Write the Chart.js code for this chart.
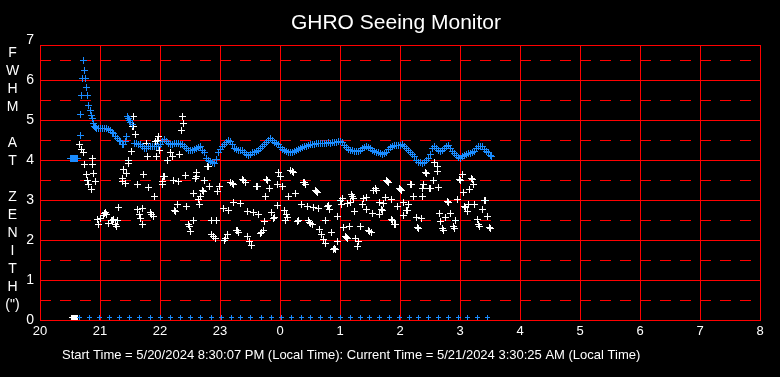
<!DOCTYPE html>
<html>
<head>
<meta charset="utf-8">
<title>GHRO Seeing Monitor</title>
<script src="https://cdn.jsdelivr.net/npm/chart.js@4.4.1/dist/chart.umd.min.js"></script>
<style>
    html, body { margin: 0; padding: 0; background: #000; }
    canvas { display: block; background: #000; }
</style>
</head>
<body>
<canvas id="myChart" width="780" height="377"></canvas>
<script>
// x values are minutes after 20:00 local time, y is FWHM in arcsec
const xTickLabels = ['20', '21', '22', '23', '0', '1', '2', '3', '4', '5', '6', '7', '8'];
const yTickValues = [0, 1, 2, 3, 4, 5, 6];
const halfLines = [0.5, 1.5, 2.5, 3.5, 4.5, 5.5, 6.5];
const yTopLabel = '7';
const yAxisLetters = ['F', 'W', 'H', 'M', '', 'A', 'T', '', 'Z', 'E', 'N', 'I', 'T', 'H', '(")'];
const titleText = 'GHRO Seeing Monitor';
const footerText = 'Start Time = 5/20/2024 8:30:07 PM (Local Time): Current Time = 5/21/2024 3:30:25 AM (Local Time)';

const seeingBlue = [
    [30,4.05],[31,4.05],[32,4.05],[33,4.05],[34,4.05],[35,4.05],[36,4.05],[37,4.05],
    [40,4.62],[40,5.15],[41,5.62],[42,6.05],[43,6.48],[44,6.24],[45,6.03],[46,5.82],[47,5.62],[48,5.37],
    [50,5.25],[51,5.11],[52,5.04],[53,4.92],[54,4.85],[55,4.82],[56,4.8],[58,4.78],[60,4.8],[62,4.79],
    [64,4.8],[66,4.78],[68,4.77],[70,4.75],[72,4.7],[73,4.67],[75,4.6],[77,4.54],[79,4.5],[80,4.46],
    [82,4.4],[83,4.38],[85,4.46],[86,4.58],
    [87,5.08],[88,5.04],[89,5.0],[90,4.95],[92,4.88],
    [94,4.42],[96,4.41],[98,4.4],[100,4.38],[102,4.34],[104,4.3],[106,4.28],[108,4.33],[110,4.34],
    [112,4.35],[114,4.34],[116,4.33],[118,4.33],[120,4.4],[122,4.46],[124,4.52],[126,4.47],[128,4.42],
    [130,4.4],[132,4.4],[134,4.41],[136,4.42],[138,4.41],[140,4.39],[142,4.38],[144,4.33],[146,4.28],
    [148,4.25],[150,4.23],[152,4.23],[154,4.27],[156,4.3],[158,4.32],[160,4.33],[162,4.25],[164,4.18],
    [166,4.05],[168,4.0],[170,3.97],[172,3.95],[174,3.92],[176,4.02],[178,4.18],[180,4.27],[182,4.33],
    [184,4.38],[186,4.44],[188,4.48],[190,4.46],[192,4.38],[194,4.3],[196,4.26],[198,4.25],[200,4.25],
    [202,4.24],[204,4.2],[206,4.15],[208,4.12],[210,4.15],[212,4.18],[214,4.2],[216,4.21],[218,4.25],
    [220,4.3],[222,4.35],[224,4.38],[226,4.45],[228,4.5],[230,4.54],[232,4.5],[234,4.45],[236,4.42],
    [238,4.38],[240,4.32],[242,4.27],[244,4.24],[246,4.21],[248,4.19],[250,4.18],[252,4.2],[254,4.22],
    [256,4.25],[258,4.27],[260,4.29],[262,4.31],[264,4.33],[266,4.35],[268,4.37],[270,4.38],[272,4.39],
    [274,4.4],[276,4.41],[278,4.42],[280,4.42],[282,4.41],[284,4.42],[286,4.42],[288,4.43],[290,4.42],
    [292,4.43],[294,4.44],[296,4.45],[298,4.46],[300,4.46],[302,4.43],[304,4.37],[306,4.31],[308,4.27],
    [310,4.25],[312,4.23],[314,4.21],[316,4.21],[318,4.22],[320,4.25],[322,4.28],[324,4.31],[326,4.33],
    [328,4.32],[330,4.28],[332,4.25],[334,4.22],[336,4.2],[338,4.18],[340,4.17],[342,4.15],[344,4.16],
    [346,4.2],[348,4.26],[350,4.31],[352,4.35],[354,4.37],[356,4.37],[358,4.36],[360,4.37],[362,4.38],
    [364,4.35],[366,4.3],[368,4.25],[370,4.2],[372,4.15],[374,4.08],[376,4.0],[378,3.95],[380,3.93],
    [382,3.92],[384,3.95],[386,4.0],[388,4.05],[390,4.15],[392,4.28],[394,4.33],[396,4.3],[398,4.25],
    [400,4.22],[402,4.25],[404,4.3],[406,4.35],[408,4.37],[410,4.3],[412,4.22],[414,4.17],[416,4.12],
    [418,4.07],[420,4.05],[422,4.08],[424,4.12],[426,4.15],[428,4.17],[430,4.17],[432,4.18],[434,4.22],
    [436,4.28],[438,4.33],[440,4.35],[442,4.33],[444,4.27],[446,4.22],[448,4.18],[450,4.12],[451,4.1]
];

const seeingWhite = [
    [39,4.39],[41,4.27],[43,4.18],[44,3.88],[46,3.65],[47,3.48],[48,3.38],[51,3.27],[52,4.04],[52,3.88],
    [53,3.67],[55,3.46],[57,2.52],[58,2.39],[60,2.55],[63,2.62],[64,2.67],[65,2.7],[66,2.65],[68,2.42],
    [71,2.5],[72,2.5],[73,2.52],[75,2.38],[76,2.35],[77,2.48],[78,2.81],[82,3.54],[82,3.46],[83,3.77],
    [85,3.42],[86,3.67],[88,3.92],[88,4.0],[91,4.21],[93,5.08],[92,4.85],[93,4.83],[95,4.63],[97,3.4],
    [97,2.77],[99,2.64],[100,2.54],[102,2.39],[102,2.79],[103,3.64],[106,4.42],[107,4.08],[108,3.32],
    [110,2.68],[111,2.65],[113,2.6],[114,3.08],[115,4.46],[116,4.08],[117,4.5],[118,4.6],[119,4.23],
    [122,3.46],[122,3.38],[123,3.6],[124,3.58],[126,4.46],[127,3.98],[130,4.18],[132,4.08],[133,3.5],
    [134,2.75],[135,2.72],[137,2.88],[138,3.46],[139,4.14],[141,4.75],[142,5.08],[143,4.92],[145,3.61],
    [146,2.83],[148,2.38],[149,2.33],[150,2.21],[153,2.5],[153,3.17],[155,3.54],[156,3.6],[156,3.68],
    [158,3.02],[159,2.88],[160,3.1],[162,3.25],[163,3.22],[164,3.5],[167,3.83],[168,3.85],[169,3.35],
    [171,2.5],[171,2.13],[173,2.08],[175,2.03],[176,2.5],[177,3.21],[179,3.33],[183,2.79],[184,2.0],
    [185,2.03],[187,2.15],[188,2.75],[190,3.45],[192,3.42],[193,3.4],[193,2.93],[196,2.25],[197,2.23],
    [198,2.2],[200,2.92],[202,3.52],[203,3.5],[205,3.45],[207,2.71],[207,2.08],[209,1.96],[211,1.87],
    [213,2.69],[216,3.33],[217,3.35],[218,2.64],[220,2.17],[221,2.2],[223,2.25],[224,2.46],[225,3.1],
    [226,3.52],[227,3.5],[229,3.29],[231,2.69],[233,2.54],[234,2.57],[237,2.86],[237,3.4],[238,3.69],
    [240,3.58],[242,3.35],[244,2.73],[245,2.48],[246,2.65],[247,2.57],[248,3.08],[250,3.73],[252,3.71],
    [253,3.68],[255,3.17],[257,2.46],[258,2.5],[261,2.9],[263,3.45],[264,3.43],[265,3.4],[267,2.83],
    [268,2.48],[269,2.45],[270,2.42],[272,2.38],[273,2.82],[275,3.23],[276,3.21],[277,3.2],[278,2.79],
    [279,2.27],[281,2.15],[283,2.02],[285,2.48],[285,1.92],[287,2.85],[288,2.87],[289,2.77],[291,2.18],
    [293,1.77],[294,1.8],[295,1.77],[297,1.96],[297,2.6],[300,3.0],[301,2.89],[302,3.04],[303,2.32],
    [305,2.1],[306,2.07],[307,2.05],[307,2.92],[309,2.35],[310,2.93],[311,3.13],[312,3.1],[313,3.04],
    [314,2.71],[315,2.04],[317,1.83],[318,1.96],[320,2.35],[322,2.9],[323,3.04],[326,3.07],[326,2.77],
    [328,2.23],[329,2.21],[331,2.2],[332,2.67],[333,3.25],[335,3.28],[336,3.25],[339,2.93],[339,2.63],
    [341,2.77],[342,2.75],[343,2.92],[345,3.06],[346,3.5],[347,3.46],[348,3.44],[351,3.02],[351,2.52],
    [352,2.5],[354,2.4],[355,2.38],[357,2.85],[359,3.3],[360,3.27],[361,3.25],[363,2.93],[363,2.61],
    [366,2.75],[367,2.73],[368,2.88],[370,3.4],[371,3.38],[373,3.08],[376,2.56],[377,2.32],[378,2.3],
    [381,2.54],[382,3.29],[382,3.08],[383,3.38],[385,3.7],[386,3.67],[389,3.3],[390,3.29],[393,3.5],
    [394,3.94],[397,3.83],[397,3.71],[398,3.32],[399,2.67],[400,2.46],[402,2.28],[403,2.25],[405,2.57],
    [407,2.96],[408,2.94],[410,2.67],[413,2.33],[414,2.3],[415,2.48],[417,3.02],[419,3.52],[420,3.5],
    [422,3.65],[423,3.18],[424,2.84],[425,2.82],[427,2.71],[428,2.88],[429,3.27],[431,3.54],[432,3.52],
    [433,3.38],[434,2.88],[437,2.52],[438,2.38],[439,2.35],[442,2.77],[444,3.0],[445,2.98],[447,2.58],
    [449,2.32],[450,2.3]
];

// readings drawn along the bottom edge
const zeroBlueTimes = [39,49,59,69,79,89,99,110,120,130,140,150,160,171,181,191,200,210,221,231,241,
    251,261,270,280,290,300,310,320,329,339,349,359,369,378,388,398,408,418,427,437,447];
const zeroWhiteTimes = [31,32,33,34,35,36,37];
const zeroLevel = 0.07;

const blue = '#1a8cff';
const red = '#ff0000';
const font = "'Liberation Sans', Arial, sans-serif";

// small pixel crosses so the markers stay sharp
function plusMark(size, color) {
    const c = document.createElement('canvas');
    c.width = size;
    c.height = size;
    const g = c.getContext('2d');
    const mid = Math.floor(size / 2);
    g.fillStyle = color;
    g.fillRect(0, mid, size, 1);
    g.fillRect(mid, 0, 1, size);
    return c;
}

const extras = {
    id: 'extras',
    beforeDatasetsDraw(chart) {
        const {ctx, chartArea: a, scales: {y}} = chart;
        ctx.save();
        ctx.strokeStyle = red;
        ctx.lineWidth = 1;
        ctx.setLineDash([11, 9]);
        halfLines.forEach(v => {
            const py = Math.round(y.getPixelForValue(v)) + 0.5;
            ctx.beginPath();
            ctx.moveTo(a.left, py);
            ctx.lineTo(a.right, py);
            ctx.stroke();
        });
        ctx.setLineDash([]);
        ctx.strokeRect(a.left + 0.5, a.top + 0.5, a.right - a.left, a.bottom - a.top);
        ctx.restore();
        ctx.imageSmoothingEnabled = false;
    },
    afterDatasetsDraw(chart) {
        chart.ctx.imageSmoothingEnabled = true;
    },
    afterDraw(chart) {
        const {ctx, chartArea: a, scales: {y}} = chart;
        ctx.save();
        ctx.fillStyle = '#fff';
        ctx.font = '21px ' + font;
        ctx.textAlign = 'center';
        ctx.textBaseline = 'alphabetic';
        ctx.fillText(titleText, 396, 28.5);

        ctx.font = '14px ' + font;
        ctx.textBaseline = 'middle';
        yAxisLetters.forEach((ch, i) => {
            ctx.fillText(ch, 12.5, 53 + i * 18);
        });

        ctx.textAlign = 'right';
        ctx.fillText(yTopLabel, a.left - 6, y.getPixelForValue(7));

        ctx.font = '13px ' + font;
        ctx.textAlign = 'left';
        ctx.textBaseline = 'alphabetic';
        ctx.fillText(footerText, 62, 359);
        ctx.restore();
    }
};

const toPoints = list => list.map(p => ({x: p[0], y: p[1]}));

new Chart(document.getElementById('myChart'), {
    type: 'scatter',
    data: {
        datasets: [{
            label: 'FWHM',
            data: toPoints(seeingBlue),
            pointStyle: plusMark(7, blue)
        }, {
            label: 'FWHM zero',
            data: zeroBlueTimes.map(t => ({x: t, y: zeroLevel})),
            pointStyle: plusMark(5, blue)
        }, {
            label: 'Raw',
            data: toPoints(seeingWhite),
            pointStyle: plusMark(7, '#fff')
        }, {
            label: 'Raw zero',
            data: zeroWhiteTimes.map(t => ({x: t, y: zeroLevel})),
            pointStyle: plusMark(5, '#fff')
        }]
    },
    options: {
        responsive: false,
        animation: false,
        events: [],
        layout: { padding: { top: 45, right: 20, bottom: 0, left: 0 } },
        plugins: {
            legend: { display: false },
            tooltip: { enabled: false }
        },
        scales: {
            x: {
                type: 'linear',
                min: 0,
                max: 720,
                afterFit: s => { s.height = 57; },
                afterBuildTicks: s => { s.ticks = xTickLabels.map((l, i) => ({value: i * 60})); },
                grid: { color: red, lineWidth: 1, drawTicks: false },
                border: { color: red },
                ticks: {
                    color: '#fff',
                    font: { family: font, size: 13 },
                    padding: 4,
                    autoSkip: false,
                    maxRotation: 0,
                    callback: v => xTickLabels[Math.round(v / 60)]
                }
            },
            y: {
                min: 0,
                max: 6.875,
                afterFit: s => { s.width = 40; },
                afterBuildTicks: s => { s.ticks = yTickValues.map(v => ({value: v})); },
                grid: { color: red, lineWidth: 1, drawTicks: false },
                border: { color: red },
                ticks: {
                    color: '#fff',
                    font: { family: font, size: 14 },
                    padding: 6,
                    callback: v => String(v)
                }
            }
        }
    },
    plugins: [extras]
});
</script>
</body>
</html>
